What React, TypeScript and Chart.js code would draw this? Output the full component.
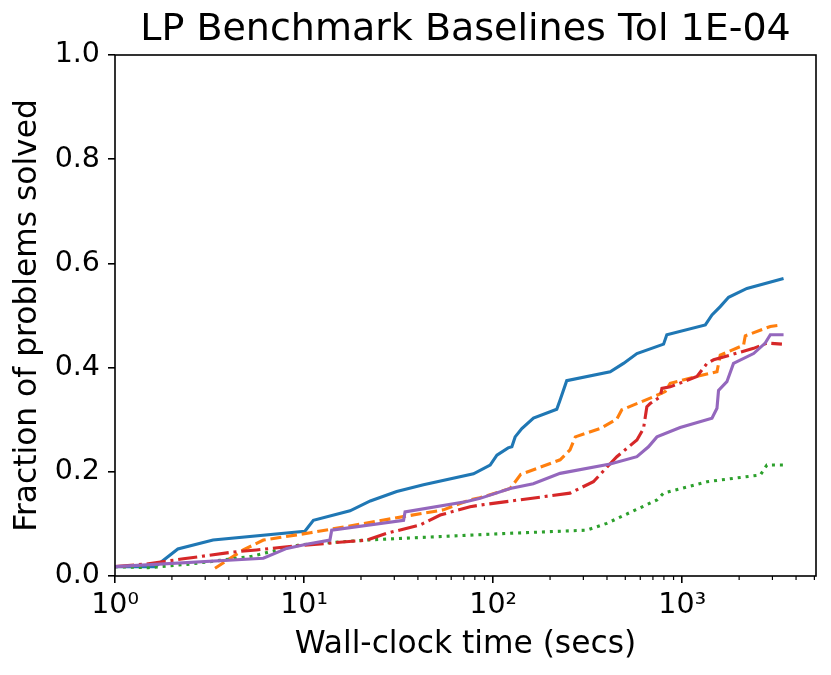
import { useEffect, useRef } from "react";
import { Chart, registerables } from "chart.js";
Chart.register(...registerables);

// wall-clock time (secs) vs fraction of problems solved, per baseline
const blueTime = [1, 1.63, 2.15, 3.3, 10.1, 11.2, 17.5, 22.4, 30.9, 42.8, 78.7, 96.4, 104.7, 120, 125.6, 130.7, 141.8, 163.4, 217, 226, 245, 416, 489, 576, 797, 829, 1325, 1437, 1589, 1759, 2199, 3435];
const blueFrac = [0.018, 0.018, 0.052, 0.069, 0.086, 0.107, 0.125, 0.144, 0.162, 0.175, 0.196, 0.213, 0.232, 0.246, 0.248, 0.267, 0.283, 0.303, 0.32, 0.338, 0.375, 0.392, 0.408, 0.427, 0.445, 0.463, 0.482, 0.501, 0.517, 0.535, 0.552, 0.571];

const orangeTime = [3.38, 4.77, 6.09, 10.8, 33.5, 54.6, 75.5, 85, 123, 140, 226, 255, 272, 368, 451, 479, 705, 813, 864, 1197, 1527, 1589, 2110, 2155, 2924, 3368];
const orangeFrac = [0.015, 0.05, 0.069, 0.083, 0.114, 0.127, 0.146, 0.15, 0.168, 0.195, 0.223, 0.242, 0.267, 0.283, 0.301, 0.319, 0.344, 0.354, 0.37, 0.383, 0.392, 0.424, 0.443, 0.461, 0.479, 0.482];

const greenTime = [1, 1.5, 2.5, 3.6, 5.3, 9.5, 21.5, 123, 313, 399, 735, 797, 1352, 2590, 2805, 3435];
const greenFrac = [0.018, 0.016, 0.023, 0.03, 0.038, 0.06, 0.069, 0.082, 0.088, 0.101, 0.146, 0.159, 0.181, 0.194, 0.213, 0.213];

const redTime = [1, 1.47, 2.3, 4.2, 5.6, 9.15, 21.5, 27.4, 41.1, 52.5, 75.5, 85, 255, 339, 451, 576, 624, 650, 677, 765, 781, 864, 1197, 1352, 1466, 2385, 2805, 3368];
const redFrac = [0.018, 0.023, 0.033, 0.046, 0.05, 0.058, 0.069, 0.082, 0.098, 0.117, 0.133, 0.136, 0.159, 0.181, 0.229, 0.261, 0.283, 0.325, 0.331, 0.344, 0.36, 0.363, 0.383, 0.408, 0.415, 0.437, 0.447, 0.445];

const purpleTime = [1, 6.09, 8.1, 10.3, 13.7, 14.0, 33.6, 34.2, 72.6, 85.3, 123, 163, 226, 416, 576, 663, 735, 975, 1437, 1527, 1556, 1723, 1867, 2385, 2748, 2924, 3435];
const purpleFrac = [0.018, 0.034, 0.053, 0.061, 0.069, 0.088, 0.107, 0.123, 0.143, 0.149, 0.168, 0.177, 0.197, 0.215, 0.229, 0.248, 0.267, 0.285, 0.303, 0.322, 0.356, 0.373, 0.408, 0.427, 0.447, 0.463, 0.463];

const xMajorTicks = [1, 10, 100, 1000];
const xTickLabels = ["10⁰", "10¹", "10²", "10³"];
const xMinorTicks = [2, 3, 4, 5, 6, 7, 8, 9, 20, 30, 40, 50, 60, 70, 80, 90, 200, 300, 400, 500, 600, 700, 800, 900, 2000, 3000, 4000, 5000];
const yTicks = [0, 0.2, 0.4, 0.6, 0.8, 1.0];

const FONT = "'DejaVu Sans', sans-serif";

function pts(xs: number[], ys: number[]) {
  return xs.map((x, i) => ({ x, y: ys[i] }));
}

const frame = {
  id: "frame",
  afterDraw(chart: any) {
    const { ctx, chartArea } = chart;
    const sx = chart.scales.x;
    ctx.save();
    ctx.strokeStyle = "#000";
    ctx.lineWidth = 1.2;
    for (const v of xMinorTicks) {
      if (v > sx.max) continue;
      const px = sx.getPixelForValue(v);
      ctx.beginPath();
      ctx.moveTo(px, chartArea.bottom);
      ctx.lineTo(px, chartArea.bottom + 4);
      ctx.stroke();
    }
    ctx.lineWidth = 1.6;
    ctx.strokeRect(chartArea.left, chartArea.top, chartArea.right - chartArea.left, chartArea.bottom - chartArea.top);
    ctx.restore();
  },
};

export default function App() {
  const ref = useRef<HTMLCanvasElement>(null);

  useEffect(() => {
    if (!ref.current) return;
    const line = (label: string, data: any, color: string, dash: number[], order: number) => ({
      label,
      data,
      borderColor: color,
      backgroundColor: color,
      borderWidth: 3.1,
      borderDash: dash,
      borderCapStyle: "butt",
      pointRadius: 0,
      fill: false,
      tension: 0,
      order,
    });

    const chart = new Chart(ref.current, {
      type: "line",
      data: {
        datasets: [
          line("blue", pts(blueTime, blueFrac), "#1f77b4", [], 4),
          line("orange", pts(orangeTime, orangeFrac), "#ff7f0e", [11, 4.8], 3),
          line("green", pts(greenTime, greenFrac), "#2ca02c", [3, 4.95], 2),
          line("red", pts(redTime, redFrac), "#d62728", [19.2, 4.8, 3, 4.8], 1),
          line("purple", pts(purpleTime, purpleFrac), "#9467bd", [], 0),
        ] as any,
      },
      options: {
        animation: false,
        responsive: false,
        layout: { padding: { left: 0, right: 15, top: 0, bottom: 0 } },
        plugins: {
          legend: { display: false },
          tooltip: { enabled: false },
          title: {
            display: true,
            fullSize: false,
            text: "LP Benchmark Baselines Tol 1E-04",
            color: "#000",
            font: { family: FONT, size: 38, weight: "normal", lineHeight: 1.2 },
            padding: { top: 7.5, bottom: 1.9 },
          },
        },
        scales: {
          x: {
            type: "logarithmic",
            min: 1,
            max: 5100,
            afterBuildTicks: (s: any) => {
              s.ticks = xMajorTicks.map((v) => ({ value: v }));
            },
            afterFit: (s: any) => {
              s.height = 99;
            },
            ticks: {
              color: "#000",
              font: { family: FONT, size: 28.5, lineHeight: 1.2 },
              padding: 5,
              maxRotation: 0,
              autoSkip: false,
              callback: (v: any) => {
                const i = xMajorTicks.indexOf(Number(v));
                return i >= 0 ? xTickLabels[i] : "";
              },
            },
            grid: { display: true, drawOnChartArea: false, drawTicks: true, tickLength: 7, color: "#000", lineWidth: 1.6 },
            border: { display: false },
            title: {
              display: true,
              text: "Wall-clock time (secs)",
              color: "#000",
              font: { family: FONT, size: 31.3, lineHeight: 1.2 },
              padding: { top: 0, bottom: 11 },
            },
          },
          y: {
            min: 0,
            max: 1,
            afterBuildTicks: (s: any) => {
              s.ticks = yTicks.map((v) => ({ value: v }));
            },
            afterFit: (s: any) => {
              s.width = 115;
            },
            ticks: {
              color: "#000",
              font: { family: FONT, size: 28.5, lineHeight: 1.2 },
              padding: 8,
              callback: (v: any) => Number(v).toFixed(1),
            },
            grid: { display: true, drawOnChartArea: false, drawTicks: true, tickLength: 7, color: "#000", lineWidth: 1.6 },
            border: { display: false },
            title: {
              display: true,
              text: "Fraction of problems solved",
              color: "#000",
              font: { family: FONT, size: 31.3, lineHeight: 1.2 },
              padding: { top: 9.5, bottom: 0 },
            },
          },
        },
      },
      plugins: [frame],
    });

    return () => chart.destroy();
  }, []);

  return (
    <div style={{ position: "absolute", left: 0, top: 0, width: 831, height: 675, background: "#fff" }}>
      <canvas ref={ref} width={831} height={675}></canvas>
    </div>
  );
}
